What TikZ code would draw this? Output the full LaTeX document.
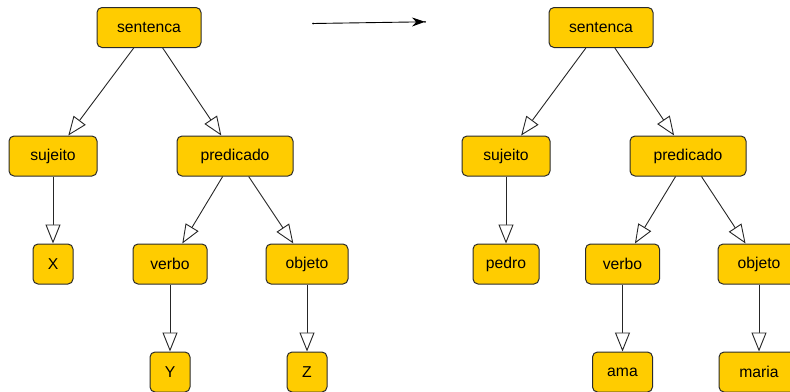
\documentclass[tikz,border=0pt]{standalone}
\usepackage{fontspec}
\setmainfont{Liberation Sans}
\usetikzlibrary{arrows.meta}
\definecolor{boxfill}{HTML}{FFCC00}
\definecolor{boxline}{HTML}{2B2B2B}
\begin{document}
\begin{tikzpicture}[x=1pt,y=-1pt,
  box/.style={draw=boxline, fill=boxfill, line width=1pt, rounded corners=5pt,
    minimum height=40pt, inner sep=0pt, font=\fontsize{15.7}{18}\selectfont},
  tri/.style={draw=black!85, line width=0.9pt, -{Triangle[open, length=19pt, width=15pt, fill=white]}},
  big/.style={-{Stealth[length=13pt, width=9pt]}, line width=0.9pt, draw=black}]
\clip (0,0) rectangle (790,391);
% left tree
\node[box, minimum width=104pt] (s1) at (149,27.5) {sentenca};
\node[box, minimum width=88pt] (sj1) at (53,156) {sujeito};
\node[box, minimum width=116pt] (pr1) at (235,156) {predicado};
\node[box, minimum width=40pt] (x1) at (53,264) {X};
\node[box, minimum width=74pt] (v1) at (170,264) {verbo};
\node[box, minimum width=82pt] (o1) at (307,264) {objeto};
\node[box, minimum width=40pt] (y1) at (170,372) {Y};
\node[box, minimum width=40pt] (z1) at (307,372) {Z};
\draw[tri] (s1) -- (sj1);
\draw[tri] (s1) -- (pr1);
\draw[tri] (sj1) -- (x1);
\draw[tri] (pr1) -- (v1);
\draw[tri] (pr1) -- (o1);
\draw[tri] (v1) -- (y1);
\draw[tri] (o1) -- (z1);
% right tree
\node[box, minimum width=104pt] (s2) at (601,27.5) {sentenca};
\node[box, minimum width=88pt] (sj2) at (506,156) {sujeito};
\node[box, minimum width=116pt] (pr2) at (688,156) {predicado};
\node[box, minimum width=66pt] (p2) at (506,264) {pedro};
\node[box, minimum width=74pt] (v2) at (622.5,264) {verbo};
\node[box, minimum width=82pt] (o2) at (759,264) {objeto};
\node[box, minimum width=60pt] (a2) at (622.5,372) {ama};
\node[box, minimum width=80pt] (m2) at (759,372) {maria};
\draw[tri] (s2) -- (sj2);
\draw[tri] (s2) -- (pr2);
\draw[tri] (sj2) -- (p2);
\draw[tri] (pr2) -- (v2);
\draw[tri] (pr2) -- (o2);
\draw[tri] (v2) -- (a2);
\draw[tri] (o2) -- (m2);
% transformation arrow
\coordinate (from) at (313,23.5);
\coordinate (to) at (425,21.8);
\draw[big] (from) -- (to);
\fill (from) circle (1pt);
\fill (to) circle (1pt);
\end{tikzpicture}
\end{document}
